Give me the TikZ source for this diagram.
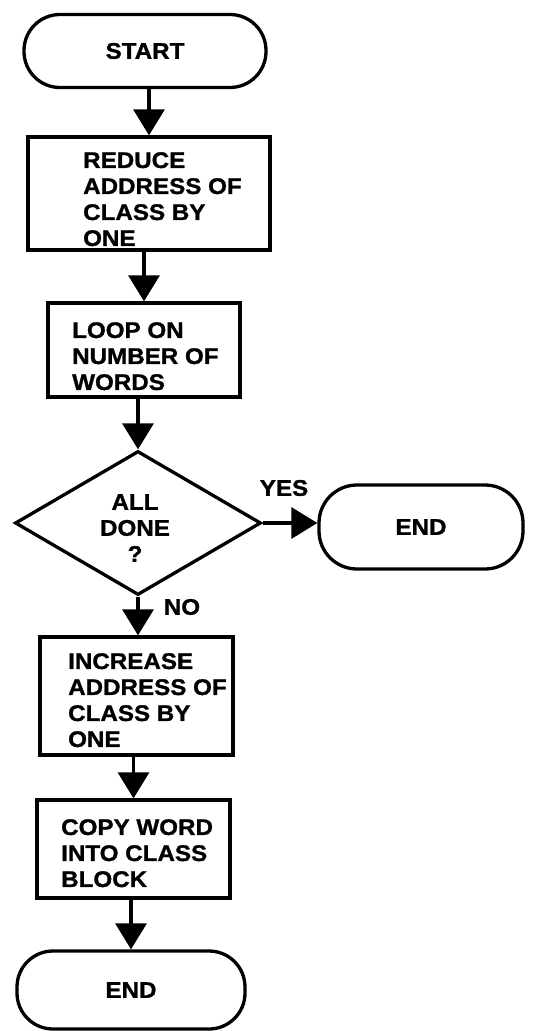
\documentclass[tikz,border=0pt]{standalone}
\usepackage{fontspec}
\newfontfamily\flowfont{Liberation Sans}[FakeStretch=1.07, BoldFeatures={FakeBold=1.2}]
\usetikzlibrary{arrows.meta,shapes.geometric}
\begin{document}
\begin{tikzpicture}[x=1pt,y=-1pt,
  every node/.style={font=\flowfont\bfseries\fontsize{22.6}{26}\selectfont},
  term/.style={draw, line width=3.3pt, rounded corners=36pt, inner sep=0},
  proc/.style={draw, line width=3.3pt, inner sep=0},
  decision/.style={diamond, draw, line width=3.3pt, inner sep=0},
  boxtext/.style={inner sep=0, align=left, anchor=north west},
  tag/.style={inner sep=0},
  arr/.style={line width=3.3pt, -{Triangle[width=31pt,length=26pt]}}]
\useasboundingbox (0,0) rectangle (537,1031);

% terminals and process boxes
\node[term, minimum width=242pt, minimum height=73pt] (start) at (145,51) {START};

\node[proc, minimum width=242pt, minimum height=113pt] (b1) at (149,193.5) {};
\node[boxtext] (b1t) at (83,152) {REDUCE\\ADDRESS OF\\CLASS BY\\ONE};

\node[proc, minimum width=192pt, minimum height=94pt] (b2) at (144,350) {};
\node[boxtext] (b2t) at (72,322) {LOOP ON\\NUMBER OF\\WORDS};

\node[decision, minimum width=246pt, minimum height=144pt] (dec) at (138,523) {};
\node[tag, align=center, anchor=north] (dect) at (135,494) {ALL\\DONE\\?};

\node[term, minimum width=204pt, minimum height=84pt, rounded corners=38pt] (endr) at (421,527) {END};
\node[tag] (yes) at (284,488) {YES};
\node[tag] (no) at (182,607) {NO};

\node[proc, minimum width=193pt, minimum height=118pt] (b3) at (136.5,696) {};
\node[boxtext] (b3t) at (68,653) {INCREASE\\ADDRESS OF\\CLASS BY\\ONE};

\node[proc, minimum width=193pt, minimum height=98pt] (b4) at (133.5,849) {};
\node[boxtext] (b4t) at (61,819) {COPY WORD\\INTO CLASS\\BLOCK};

\node[term, minimum width=228pt, minimum height=78pt] (endb) at (131,990) {END};

% connectors
\draw[arr] (start.south -| b1.north) -- (b1.north);
\draw[arr] (b1.south -| b2.north) -- (b2.north);
\draw[arr] (b2.south -| dec.north) -- (dec.north);
\draw[arr] (dec.east) -- (dec.east -| endr.west);
\draw[arr] (dec.south) -- (dec.south |- b3.north);
\draw[arr] (b3.south -| b4.north) -- (b4.north);
\draw[arr] (b4.south -| endb.north) -- (endb.north);
\end{tikzpicture}
\end{document}
